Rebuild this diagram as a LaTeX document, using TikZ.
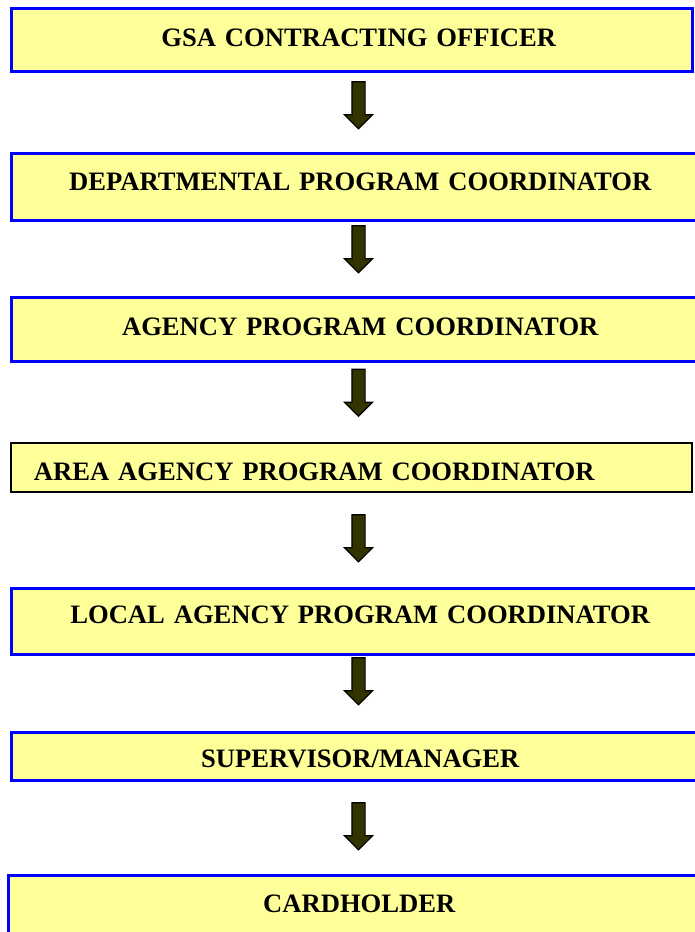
\documentclass[tikz,border=0pt]{standalone}
\usepackage{fontspec}
\setmainfont{Liberation Serif}
\usetikzlibrary{shapes.arrows, positioning}
\usepackage{xcolor}
\definecolor{boxyellow}{RGB}{255,255,153}
\definecolor{boxblue}{RGB}{0,0,255}
\definecolor{arrowolive}{RGB}{51,51,0}

\begin{document}
\begin{tikzpicture}[
    x=1pt, y=-1pt,
    every node/.style={font=\fontsize{26.6}{30}\selectfont\bfseries},
    level/.style={rectangle, draw=boxblue, fill=boxyellow, line width=2.5pt, anchor=north west, inner xsep=0pt, inner ysep=0pt, align=center},
    levelblack/.style={level, draw=black, line width=2pt},
    downarrow/.style={single arrow, draw=black, fill=arrowolive, line width=1.2pt, shape border rotate=270, inner sep=6pt, minimum height=47pt, single arrow head extend=7.5pt}
]
\useasboundingbox (0,0) rectangle (694,932);

% Top of the chain
\node[level, text width=681pt, text height=38.3pt, text depth=24.7pt] at (10,7) (gsa) {\hspace*{14pt}GSA CONTRACTING OFFICER};

% Department level
\node[level, text width=698pt, text height=37.3pt, text depth=29.7pt] at (10,152) (dept) {DEPARTMENTAL PROGRAM COORDINATOR};

% Agency level
\node[level, text width=698pt, text height=37.8pt, text depth=26.2pt] at (10,296) (agency) {AGENCY PROGRAM COORDINATOR};

% Area level
\node[levelblack, inner xsep=23pt, text width=635pt, align=left, text height=37.3pt, text depth=11.7pt] at (10,442) (area) {AREA AGENCY PROGRAM COORDINATOR};

% Local level
\node[level, text width=698pt, text height=34.8pt, text depth=31.2pt] at (10,587) (local) {LOCAL AGENCY PROGRAM COORDINATOR};

% Supervisor
\node[level, text width=698pt, text height=34.8pt, text depth=13.2pt] at (10,731) (super) {SUPERVISOR/MANAGER};

% Cardholder
\node[level, text width=702pt, text height=37.3pt, text depth=22.7pt] at (7,874) (card) {CARDHOLDER};

% Arrows
\node[downarrow] (a1) at (358.5,102) {};
\node[downarrow] (a2) at (358.5,246) {};
\node[downarrow] (a3) at (358.5,389.5) {};
\node[downarrow] (a4) at (358.5,535) {};
\node[downarrow] (a5) at (358.5,678) {};
\node[downarrow] (a6) at (358.5,823) {};

\end{tikzpicture}
\end{document}
